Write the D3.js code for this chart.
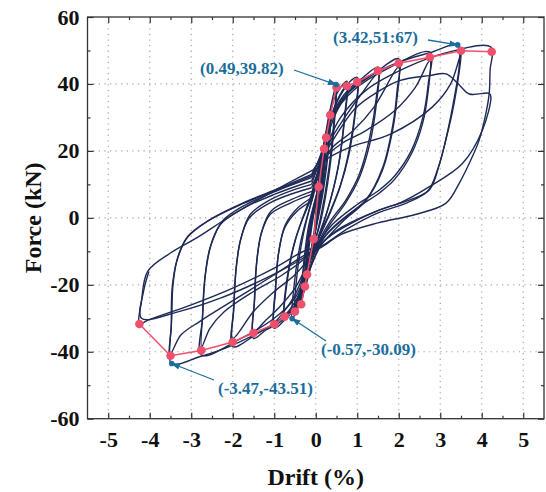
<!DOCTYPE html>
<html><head><meta charset="utf-8">
<script src="https://cdn.jsdelivr.net/npm/d3@7"></script>
<style>body{margin:0;background:#fff}</style>
</head><body>
<svg id="chart" width="546" height="492"></svg>
<script>
// ---------------- data ----------------
const driftTicks = [-5,-4,-3,-2,-1,0,1,2,3,4,5];
const forceTicks = [-60,-40,-20,0,20,40,60];
const driftMinorTicks = [-4.5,-3.5,-2.5,-1.5,-0.5,0.5,1.5,2.5,3.5,4.5];
const forceMinorTicks = [-50,-30,-10,10,30,50];

// skeleton (envelope) curve
const skeletonDrift = [-4.25,-3.5,-2.76,-2.0,-1.5,-1.0,-0.75,-0.5,-0.35,-0.26,-0.21,-0.05,0.07,0.2,0.25,0.35,0.5,0.75,1.0,1.5,2.0,2.75,3.5,4.24];
const skeletonForce = [-31.7,-41.2,-39.6,-37.1,-34.4,-31.8,-29.5,-28.0,-25.8,-20.5,-16.9,-6.3,9.3,20.6,24.0,30.7,39.0,39.4,40.6,43.9,46.2,48.0,49.9,49.6];

// key points
const keyDrift = [3.42,0.49,-0.57,-3.47];
const keyForce = [51.67,39.82,-30.09,-43.51];
const keyLabels = ["(3.42,51:67)","(0.49,39.82)","(-0.57,-30.09)","(-3.47,-43.51)"];

// hysteresis cycles: [drift %, force kN]
const cycles = [
 [[0,0],[0.03,4],[0.07,9.3],[0.05,5],[0.01,0],[-0.02,-3],[-0.05,-6.3],[-0.03,-3],[0,1]],
 [[0,1],[0.1,11],[0.2,20.6],[0.17,15],[0.08,5],[-0.04,-5],[-0.13,-11],[-0.21,-16.9],[-0.18,-11],[-0.1,-3],[0.01,5]],
 [[0.01,5],[0.11,13],[0.21,19.5],[0.18,14],[0.09,5],[-0.04,-5],[-0.14,-11],[-0.22,-16],[-0.19,-10],[-0.11,-2],[0.01,5]],
 [[0.01,5],[0.12,14],[0.25,24],[0.21,17],[0.1,6],[-0.05,-6],[-0.17,-14],[-0.26,-20.5],[-0.22,-13],[-0.12,-3],[0.02,6]],
 [[0.02,6],[0.13,15],[0.26,23],[0.22,16],[0.11,5],[-0.05,-6],[-0.18,-14],[-0.27,-19.5],[-0.23,-12],[-0.13,-2],[0.02,6]],
 [[0.02,6],[0.17,18],[0.35,30.7],[0.31,23],[0.17,9],[-0.04,-6],[-0.22,-17],[-0.35,-25.8],[-0.3,-17],[-0.17,-4],[0.02,7]],
 [[0.02,7],[0.18,19],[0.36,29.5],[0.32,22],[0.18,8],[-0.04,-6],[-0.23,-17],[-0.36,-24.5],[-0.31,-16],[-0.18,-3],[0.02,7]],
 [[0.02,7],[0.2,21],[0.36,33],[0.49,39.8],[0.45,31],[0.32,15],[0.1,-1],[-0.12,-12],[-0.35,-24],[-0.57,-30.1],[-0.52,-20],[-0.36,-7],[-0.05,7]],
 [[-0.05,7],[0.15,19],[0.35,31],[0.5,38.5],[0.46,30],[0.33,14],[0.12,-1],[-0.12,-11],[-0.32,-21],[-0.5,-27.5],[-0.46,-18],[-0.3,-5],[-0.03,8]],
 [[-0.03,8],[0.18,21],[0.42,35],[0.75,40.8],[0.7,31],[0.55,16],[0.3,3],[0.05,-6],[-0.2,-15],[-0.45,-25],[-0.75,-30.5],[-0.7,-20],[-0.5,-7],[-0.1,7]],
 [[-0.1,7],[0.15,18],[0.45,33],[0.75,39],[0.7,30],[0.54,15],[0.28,2],[0.04,-7],[-0.2,-15],[-0.45,-24],[-0.75,-28.8],[-0.69,-18],[-0.48,-6],[-0.1,6]],
 [[-0.1,6],[0.15,18],[0.45,33],[0.7,39],[1.0,42],[0.95,32],[0.8,20],[0.6,10],[0.35,2],[0.1,-5],[-0.2,-15],[-0.5,-26],[-0.75,-30.5],[-1.0,-33],[-0.97,-22],[-0.9,-11],[-0.75,-3],[-0.45,2],[-0.1,5]],
 [[-0.1,5],[0.1,15],[0.35,27],[0.65,35],[1.0,40],[0.95,31],[0.8,19],[0.58,9],[0.33,1],[0.08,-6],[-0.2,-14],[-0.5,-23],[-0.8,-28.5],[-1.0,-31],[-0.97,-21],[-0.89,-10],[-0.73,-2],[-0.43,3],[-0.1,6]],
 [[-0.1,6],[0.12,17],[0.4,31],[0.8,38.5],[1.1,41.5],[1.5,45],[1.46,36],[1.3,24],[1.05,13],[0.73,5.4],[0.35,-1],[0.08,-7],[-0.2,-17],[-0.5,-27],[-0.9,-31.5],[-1.2,-33.5],[-1.5,-36],[-1.48,-25],[-1.43,-14],[-1.32,-5],[-1.1,1],[-0.6,4.5],[-0.1,7]],
 [[-0.1,7],[0.1,14],[0.35,23],[0.7,30],[1.1,37],[1.5,43],[1.46,34],[1.3,22],[1.05,12],[0.72,4.5],[0.34,-2],[0.06,-8],[-0.2,-14],[-0.5,-21],[-0.9,-27],[-1.2,-30.5],[-1.5,-34],[-1.47,-24],[-1.42,-13],[-1.3,-4],[-1.08,2],[-0.58,5.5],[-0.08,8]],
 [[-0.08,8],[0.12,17],[0.4,30],[0.8,37.5],[1.4,43],[2.0,47.5],[1.96,38],[1.86,28],[1.62,15.3],[1.21,5.4],[0.7,0],[0.2,-6],[-0.1,-14],[-0.35,-24],[-0.8,-30],[-1.4,-34.5],[-2.0,-38.5],[-1.98,-28],[-1.93,-17],[-1.82,-7],[-1.6,0],[-1.1,4.5],[-0.5,7.5],[-0.1,9]],
 [[-0.1,9],[0.12,15],[0.4,21],[0.9,26],[1.4,33],[2.0,45],[1.96,36],[1.85,26],[1.6,14],[1.2,5],[0.7,-0.5],[0.2,-7],[-0.15,-12],[-0.5,-17],[-1.0,-22],[-1.5,-28],[-2.0,-36],[-1.97,-26],[-1.92,-15],[-1.8,-6],[-1.58,1],[-1.08,5.5],[-0.5,8.5],[-0.1,10]],
 [[-0.1,10],[0.12,18],[0.4,30],[0.9,38],[1.8,45],[2.75,49.5],[2.71,40],[2.58,30],[2.3,20],[1.9,12.5],[1.54,8.4],[1.0,4],[0.4,-2],[0.05,-8],[-0.2,-15],[-0.5,-24],[-1.0,-30],[-1.8,-36],[-2.75,-41],[-2.73,-30],[-2.68,-19],[-2.55,-9],[-2.3,-2],[-1.8,2.5],[-1.0,7],[-0.1,11]],
 [[-0.1,11],[0.15,17],[0.6,22],[1.2,26],[1.9,32],[2.4,39],[2.75,47],[2.71,38],[2.57,28],[2.3,19],[1.9,11.5],[1.54,7.5],[1.0,3],[0.4,-3],[0.05,-8],[-0.25,-12],[-0.8,-17],[-1.5,-22],[-2.2,-28],[-2.55,-33],[-2.75,-38.5],[-2.72,-28],[-2.66,-17],[-2.52,-8],[-2.25,-1],[-1.75,3.5],[-0.95,8],[-0.1,12]],
 [[-0.1,12],[0.15,20],[0.45,32],[1.0,40],[2.0,46.5],[2.8,49.5],[3.42,51.67],[3.46,46],[3.34,36],[3.18,26],[2.98,16],[2.74,8.4],[2.3,5.5],[1.54,2.4],[0.8,-2],[0.2,-7],[-0.1,-14],[-0.4,-25],[-1.0,-31.5],[-2.0,-38],[-2.8,-41.5],[-3.47,-43.51],[-3.48,-32],[-3.46,-21],[-3.35,-13],[-3.1,-6],[-2.6,-1],[-1.8,4],[-0.9,8.5],[-0.1,12.5]],
 [[-0.1,12.5],[0.2,17],[0.8,21],[1.8,25],[2.8,33],[3.25,40],[3.5,49],[3.46,44],[3.33,34],[3.15,24],[2.95,15],[2.7,8],[2.2,4.5],[1.5,1.5],[0.8,-3],[0.2,-8],[-0.25,-11],[-1.0,-17],[-1.9,-24],[-2.8,-31],[-3.25,-35],[-3.5,-40.5],[-3.47,-30],[-3.44,-20],[-3.33,-12],[-3.08,-5.5],[-2.55,-0.5],[-1.75,4.5],[-0.85,9],[-0.1,13]],
 [[-0.1,13],[0.2,20],[0.6,30],[1.2,38],[2.2,45],[3.2,49.5],[4.22,51],[4.2,44],[4.18,37.2],[4.1,31.2],[3.94,23.3],[3.7,16.3],[3.46,10.4],[3.14,4.4],[2.4,1],[1.5,-1.5],[0.6,-5],[0.1,-9],[-0.22,-9.6],[-1.0,-15],[-2.0,-21],[-3.0,-26],[-4.03,-30.5],[-4.25,-31.7],[-4.2,-25],[-4.05,-16],[-3.5,-10.5],[-2.87,-6],[-2.07,0.4],[-1.1,7.4],[-0.06,14.3]],
 [[-0.06,14.3],[0.3,21],[0.96,32.8],[1.54,38],[2.02,41],[2.74,42.5],[3.14,43],[3.42,40.2],[3.7,37],[4.18,37.2],[4.22,36.2],[4.02,26.3],[3.54,16.3],[2.74,9.3],[2.02,4.4],[1.54,2.4],[0.6,-3],[0.1,-8],[-0.3,-12],[-1.2,-18],[-2.3,-24],[-3.3,-28],[-4.2,-30],[-4.15,-22],[-4.02,-16]]
];

// ---------------- drawing ----------------
const plot = {left: 87.5, right: 544, top: 17, bottom: 418.7};
const svg = d3.select("#chart");
const x = d3.scaleLinear().domain([-5.5, 5.5]).range([plot.left, plot.right]);
const y = d3.scaleLinear().domain([-60, 60]).range([plot.bottom, plot.top]);
const serif = "'Liberation Serif','Times New Roman',serif";
const navy = "#1e2a55", red = "#f0506b", blue = "#1b6e9c";

// grid
const grid = svg.append("g").attr("stroke", "#a8a8a8").attr("stroke-width", 1.2).attr("stroke-dasharray", "1.3,4.3");
grid.selectAll("line.v").data(driftTicks).join("line").attr("class","v")
  .attr("x1", d => x(d)).attr("x2", d => x(d)).attr("y1", plot.top).attr("y2", plot.bottom);
grid.selectAll("line.h").data(forceTicks.filter(d => d > -60 && d < 60)).join("line").attr("class","h")
  .attr("y1", d => y(d)).attr("y2", d => y(d)).attr("x1", plot.left).attr("x2", plot.right);

// hysteresis loops
const line = d3.line().x(d => x(d[0])).y(d => y(d[1])).curve(d3.curveCatmullRom.alpha(0.5));
svg.append("g").selectAll("path").data(cycles).join("path")
  .attr("d", line).attr("fill", "none").attr("stroke", navy).attr("stroke-width", 1.4)
  .attr("stroke-linejoin", "round");

// skeleton
const skel = skeletonDrift.map((d, i) => [d, skeletonForce[i]]);
svg.append("path").datum(skel).attr("d", d3.line().x(d => x(d[0])).y(d => y(d[1])))
  .attr("fill", "none").attr("stroke", red).attr("stroke-width", 1.5);
svg.append("g").selectAll("circle").data(skel).join("circle")
  .attr("cx", d => x(d[0])).attr("cy", d => y(d[1])).attr("r", 4.3).attr("fill", red);

// annotations
const defs = svg.append("defs");
defs.append("marker").attr("id", "arr").attr("viewBox", "0 0 10 10").attr("refX", 9).attr("refY", 5)
  .attr("markerWidth", 7).attr("markerHeight", 7).attr("orient", "auto")
  .append("path").attr("d", "M0,1.5 L10,5 L0,8.5 Z").attr("fill", blue);
const labelLayout = [
  {tx: 333, ty: 42.5, ax: 428, ay: 40},
  {tx: 200, ty: 73.5, ax: 294, ay: 70},
  {tx: 321, ty: 355, ax: 326, ay: 341},
  {tx: 218, ty: 393.5, ax: 214, ay: 380}
];
const ann = svg.append("g");
keyDrift.forEach((d, i) => {
  const L = labelLayout[i];
  const px = x(d), py = y(keyForce[i]);
  ann.append("line").attr("x1", L.ax).attr("y1", L.ay).attr("x2", px).attr("y2", py)
    .attr("stroke", blue).attr("stroke-width", 1.3).attr("marker-end", "url(#arr)");
  ann.append("circle").attr("cx", px).attr("cy", py).attr("r", 2.8).attr("fill", blue);
  ann.append("text").attr("x", L.tx).attr("y", L.ty).text(keyLabels[i])
    .attr("font-family", serif).attr("font-weight", "bold").attr("font-size", 17).attr("fill", blue);
});

// axes (inward ticks on all sides)
function styleAxis(g) {
  g.select(".domain").remove();
  g.selectAll(".tick line").attr("stroke", "#333").attr("stroke-width", 1.2);
  g.selectAll("text").attr("font-family", serif).attr("font-weight", "bold").attr("font-size", 22).attr("fill", "#111");
}
const fmt = d => String(d);
svg.append("g").attr("transform", `translate(0,${plot.bottom})`)
  .call(d3.axisBottom(x).tickValues(driftTicks).tickSize(-6).tickPadding(13).tickFormat(fmt)).call(styleAxis);
svg.append("g").attr("transform", `translate(0,${plot.bottom})`)
  .call(d3.axisBottom(x).tickValues(driftMinorTicks).tickSize(-3).tickFormat("")).call(styleAxis);
svg.append("g").attr("transform", `translate(0,${plot.top})`)
  .call(d3.axisTop(x).tickValues(driftTicks).tickSize(-6).tickFormat("")).call(styleAxis);
svg.append("g").attr("transform", `translate(0,${plot.top})`)
  .call(d3.axisTop(x).tickValues(driftMinorTicks).tickSize(-3).tickFormat("")).call(styleAxis);
svg.append("g").attr("transform", `translate(${plot.left},0)`)
  .call(d3.axisLeft(y).tickValues(forceTicks).tickSize(-6).tickPadding(8).tickFormat(fmt)).call(styleAxis);
svg.append("g").attr("transform", `translate(${plot.left},0)`)
  .call(d3.axisLeft(y).tickValues(forceMinorTicks).tickSize(-3).tickFormat("")).call(styleAxis);
svg.append("g").attr("transform", `translate(${plot.right},0)`)
  .call(d3.axisRight(y).tickValues(forceTicks).tickSize(-6).tickFormat("")).call(styleAxis);
svg.append("g").attr("transform", `translate(${plot.right},0)`)
  .call(d3.axisRight(y).tickValues(forceMinorTicks).tickSize(-3).tickFormat("")).call(styleAxis);

// frame
svg.append("rect").attr("x", plot.left).attr("y", plot.top)
  .attr("width", plot.right - plot.left).attr("height", plot.bottom - plot.top)
  .attr("fill", "none").attr("stroke", "#333").attr("stroke-width", 1.3);

// axis titles
svg.append("text").attr("x", (plot.left + plot.right) / 2).attr("y", 485).attr("text-anchor", "middle")
  .attr("font-family", serif).attr("font-weight", "bold").attr("font-size", 24).attr("fill", "#111").text("Drift (%)");
svg.append("text").attr("transform", `translate(41,${y(0)}) rotate(-90)`).attr("text-anchor", "middle")
  .attr("font-family", serif).attr("font-weight", "bold").attr("font-size", 24).attr("fill", "#111").text("Force (kN)");
</script>
</body></html>
